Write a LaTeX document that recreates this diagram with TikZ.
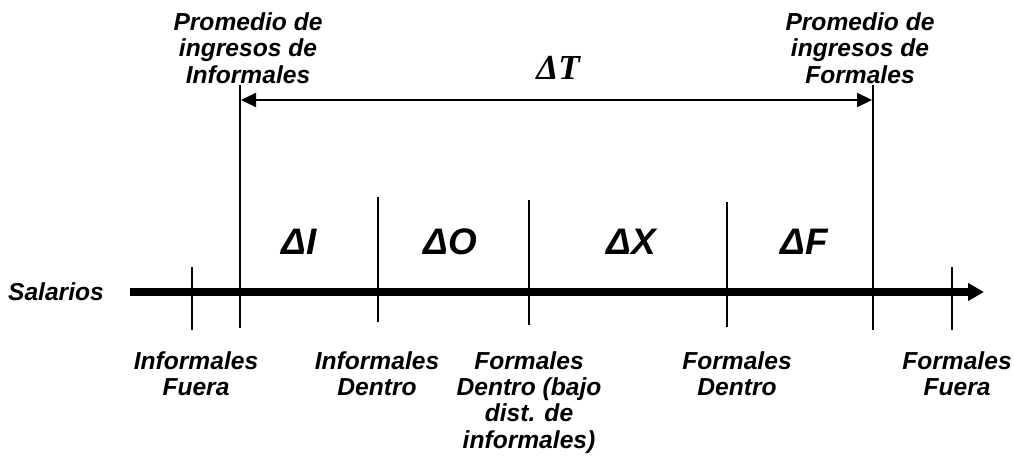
\documentclass[tikz,border=0pt]{standalone}
\usepackage{fontspec}
\setmainfont{Liberation Sans}
\newfontfamily\deltaserif{Liberation Serif}
\usetikzlibrary{arrows.meta,positioning}

\begin{document}
\begin{tikzpicture}[
    x=0.02cm, y=-0.02cm,
    lbl/.style={font=\fontsize{14}{15}\selectfont\bfseries\itshape, align=center, inner sep=0pt},
    dlbl/.style={font=\fontsize{21}{24}\selectfont\bfseries\itshape, inner sep=0pt},
    tick/.style={line width=1.2pt},
    axis/.style={line width=4.5pt, -{Triangle[length=0.32cm,width=0.34cm]}},
    span/.style={line width=1.2pt, {Triangle[length=0.3cm,width=0.28cm]}-{Triangle[length=0.3cm,width=0.28cm]}}
]
\useasboundingbox (0,0) rectangle (1014,457);

% Salary axis
\node[lbl] (salarios) at (56,292) {Salarios};
\coordinate (axstart) at (130,292);
\coordinate (axend) at (984,292);
\draw[axis] (axstart) -- (axend);

% Tick marks on the axis
\coordinate (infuera-t) at (192,267);  \coordinate (infuera-b) at (192,330);
\coordinate (promi-t) at (240,85);     \coordinate (promi-b) at (240,328);
\coordinate (indentro-t) at (378,197); \coordinate (indentro-b) at (378,322);
\coordinate (fbajo-t) at (529,200);    \coordinate (fbajo-b) at (529,325);
\coordinate (fdentro-t) at (727,202);  \coordinate (fdentro-b) at (727,327);
\coordinate (promf-t) at (873,85);     \coordinate (promf-b) at (873,330);
\coordinate (ffuera-t) at (952,267);   \coordinate (ffuera-b) at (952,330);

\foreach \t in {infuera, promi, indentro, fbajo, fdentro, promf, ffuera} {
    \draw[tick] (\t-t) -- (\t-b);
}

% Total gap between the two averages
\coordinate (spanl) at (241,100);
\coordinate (spanr) at (872,100);
\draw[span] (spanl) -- (spanr);
\node[font=\fontsize{20}{24}\selectfont\deltaserif\bfseries\itshape, inner sep=0pt] (dT) at (558,68) {ΔT};

% Averages
\node[lbl] (promInf) at (248,48) {Promedio de\\ingresos de\\Informales};
\node[lbl] (promFor) at (860,48) {Promedio de\\ingresos de\\Formales};

% Components of the gap
\node[dlbl] (dI) at (299,242) {ΔI};
\node[dlbl] (dO) at (450,242) {ΔO};
\node[dlbl] (dX) at (631,242) {ΔX};
\node[dlbl] (dF) at (804,242) {ΔF};

% Labels under the axis
\node[lbl, anchor=north] (lInfFuera) at (196,351) {Informales\\Fuera};
\node[lbl, anchor=north] (lInfDentro) at (377,351) {Informales\\Dentro};
\node[lbl, anchor=north] (lForBajo) at (529,351) {Formales\\Dentro (bajo\\dist. de\\informales)};
\node[lbl, anchor=north] (lForDentro) at (737,351) {Formales\\Dentro};
\node[lbl, anchor=north] (lForFuera) at (957,351) {Formales\\Fuera};

\end{tikzpicture}
\end{document}
